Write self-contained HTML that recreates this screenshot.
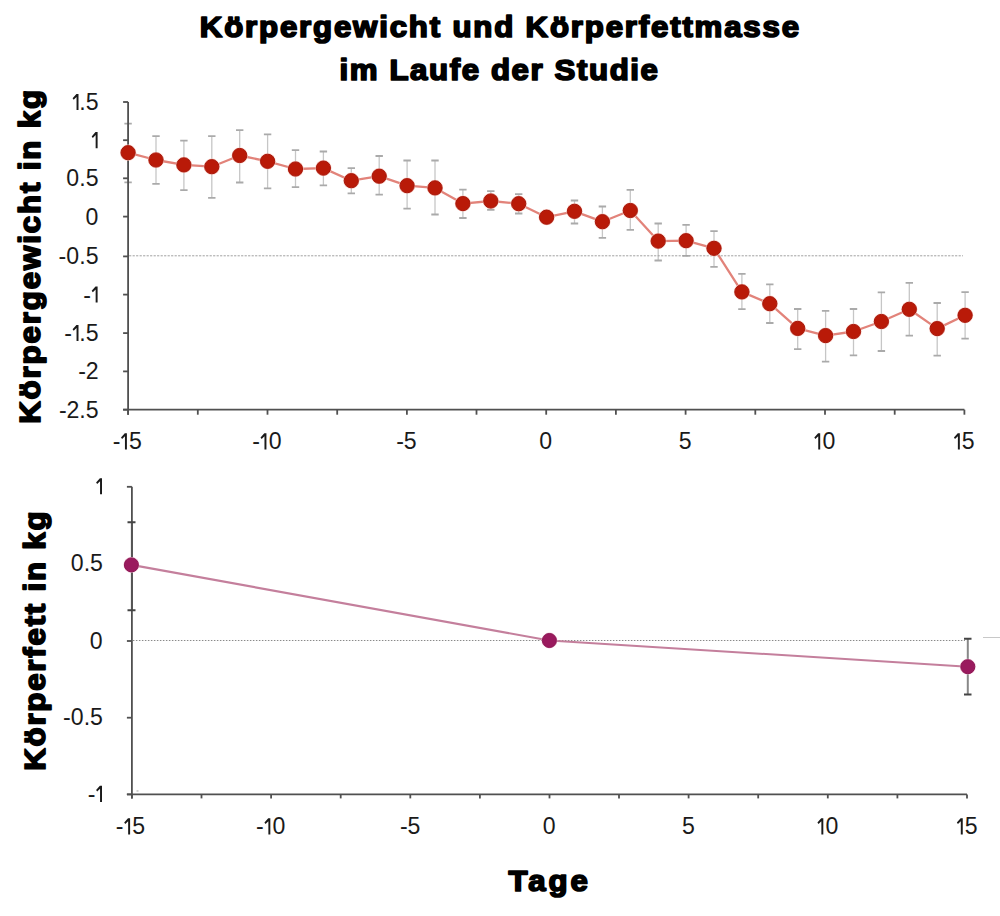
<!DOCTYPE html>
<html><head><meta charset="utf-8"><style>
html,body{margin:0;padding:0;background:#fff;width:1000px;height:916px;overflow:hidden}
svg{display:block}
.h{font-family:"Liberation Sans",sans-serif;font-weight:bold;font-size:29.2px;fill:#000;stroke:#000;stroke-width:1.7px;stroke-linejoin:round}
.t{font-family:"Liberation Sans",sans-serif;font-size:23.1px;fill:#1a1a1a}
.ax{stroke:#505050;stroke-width:1.8;fill:none}
.dot1{stroke:#a0a0a0;stroke-width:1;stroke-dasharray:2.2 1.3;fill:none}
.dot{stroke:#8a8a8a;stroke-width:1;stroke-dasharray:1.5 1.5;fill:none}
.eb{stroke:#c6c6c6;stroke-width:1.3;fill:none}
.ec{stroke:#aaaaaa;stroke-width:1.8;fill:none}
.ln{stroke:#e2837a;stroke-width:2.3;fill:none;stroke-linejoin:round}
.dt{fill:#b91a08;stroke:#a8170a;stroke-width:1}
.ln2{stroke:#c47f9c;stroke-width:2.1;fill:none}
.dt2{fill:#9a1a5e;stroke:#8c1654;stroke-width:1}
</style></head><body>
<svg width="1000" height="916" viewBox="0 0 1000 916">
<text transform="translate(199.8,37.2) scale(1.07,1)" x="0" y="0" textLength="560.09" lengthAdjust="spacing" class="h">Körpergewicht und Körperfettmasse</text>
<text transform="translate(339.5,79.5) scale(1.07,1)" x="0" y="0" textLength="297.66" lengthAdjust="spacing" class="h">im Laufe der Studie</text>
<text transform="translate(40,423.8) rotate(-90) scale(1.07,1)" x="0" y="0" textLength="312.15" lengthAdjust="spacing" class="h">Körpergewicht in kg</text>
<text transform="translate(45.4,770.8) rotate(-90) scale(1.07,1)" x="0" y="0" textLength="242.43" lengthAdjust="spacing" class="h">Körperfett in kg</text>
<text transform="translate(508.5,890.9) scale(1.07,1)" x="0" y="0" textLength="74.30" lengthAdjust="spacing" class="h">Tage</text>
<path d="M128.1 123.7V182.4" class="eb"/><path d="M124.4 123.7h7.4M124.4 182.4h7.4" class="ec"/>
<path d="M156.0 136.1V183.8" class="eb"/><path d="M152.3 136.1h7.4M152.3 183.8h7.4" class="ec"/>
<path d="M183.9 140.6V190.1" class="eb"/><path d="M180.2 140.6h7.4M180.2 190.1h7.4" class="ec"/>
<path d="M211.8 136.1V197.8" class="eb"/><path d="M208.1 136.1h7.4M208.1 197.8h7.4" class="ec"/>
<path d="M239.7 130.2V182.5" class="eb"/><path d="M236.0 130.2h7.4M236.0 182.5h7.4" class="ec"/>
<path d="M267.6 134.3V188.3" class="eb"/><path d="M263.9 134.3h7.4M263.9 188.3h7.4" class="ec"/>
<path d="M295.5 150.1V187.1" class="eb"/><path d="M291.8 150.1h7.4M291.8 187.1h7.4" class="ec"/>
<path d="M323.4 151.5V185.3" class="eb"/><path d="M319.7 151.5h7.4M319.7 185.3h7.4" class="ec"/>
<path d="M351.3 168.2V193.3" class="eb"/><path d="M347.6 168.2h7.4M347.6 193.3h7.4" class="ec"/>
<path d="M379.2 156.0V194.7" class="eb"/><path d="M375.5 156.0h7.4M375.5 194.7h7.4" class="ec"/>
<path d="M407.1 160.5V208.6" class="eb"/><path d="M403.4 160.5h7.4M403.4 208.6h7.4" class="ec"/>
<path d="M435.0 160.5V214.5" class="eb"/><path d="M431.3 160.5h7.4M431.3 214.5h7.4" class="ec"/>
<path d="M462.9 189.7V218.0" class="eb"/><path d="M459.2 189.7h7.4M459.2 218.0h7.4" class="ec"/>
<path d="M490.8 191.1V209.9" class="eb"/><path d="M487.1 191.1h7.4M487.1 209.9h7.4" class="ec"/>
<path d="M518.7 194.2V213.5" class="eb"/><path d="M515.0 194.2h7.4M515.0 213.5h7.4" class="ec"/>
<path d="M574.5 200.5V223.5" class="eb"/><path d="M570.8 200.5h7.4M570.8 223.5h7.4" class="ec"/>
<path d="M602.4 206.5V237.9" class="eb"/><path d="M598.7 206.5h7.4M598.7 237.9h7.4" class="ec"/>
<path d="M630.3 189.8V229.8" class="eb"/><path d="M626.6 189.8h7.4M626.6 229.8h7.4" class="ec"/>
<path d="M658.2 223.5V260.5" class="eb"/><path d="M654.5 223.5h7.4M654.5 260.5h7.4" class="ec"/>
<path d="M686.1 224.9V255.9" class="eb"/><path d="M682.4 224.9h7.4M682.4 255.9h7.4" class="ec"/>
<path d="M714.0 231.2V266.8" class="eb"/><path d="M710.3 231.2h7.4M710.3 266.8h7.4" class="ec"/>
<path d="M741.9 273.9V309.1" class="eb"/><path d="M738.2 273.9h7.4M738.2 309.1h7.4" class="ec"/>
<path d="M769.8 284.3V323.0" class="eb"/><path d="M766.1 284.3h7.4M766.1 323.0h7.4" class="ec"/>
<path d="M797.7 309.0V349.1" class="eb"/><path d="M794.0 309.0h7.4M794.0 349.1h7.4" class="ec"/>
<path d="M825.6 310.8V361.7" class="eb"/><path d="M821.9 310.8h7.4M821.9 361.7h7.4" class="ec"/>
<path d="M853.5 309.0V355.4" class="eb"/><path d="M849.8 309.0h7.4M849.8 355.4h7.4" class="ec"/>
<path d="M881.4 292.3V351.0" class="eb"/><path d="M877.7 292.3h7.4M877.7 351.0h7.4" class="ec"/>
<path d="M909.3 282.8V335.6" class="eb"/><path d="M905.6 282.8h7.4M905.6 335.6h7.4" class="ec"/>
<path d="M937.2 303.0V355.6" class="eb"/><path d="M933.5 303.0h7.4M933.5 355.6h7.4" class="ec"/>
<path d="M965.1 292.2V338.7" class="eb"/><path d="M961.4 292.2h7.4M961.4 338.7h7.4" class="ec"/>
<path d="M128.1 102V414.7M123.1 409.7H964.4" class="ax"/>
<path d="M123.1 102H128.1" class="ax"/>
<polygon points="78.50,110.00 78.50,93.90 76.40,93.90 72.60,98.20 73.70,99.70 76.55,96.90 76.55,110.00" fill="#1a1a1a"/><text x="82.50" y="110" text-anchor="middle" class="t">.</text><text x="92.05" y="110" text-anchor="middle" class="t">5</text>
<path d="M123.1 140.2H128.1" class="ax"/>
<polygon points="97.60,148.20 97.60,132.10 95.50,132.10 91.70,136.40 92.80,137.90 95.65,135.10 95.65,148.20" fill="#1a1a1a"/>
<path d="M123.1 178.3H128.1" class="ax"/>
<text x="72.70" y="186.3" text-anchor="middle" class="t">0</text><text x="82.50" y="186.3" text-anchor="middle" class="t">.</text><text x="92.05" y="186.3" text-anchor="middle" class="t">5</text>
<path d="M123.1 216.6H128.1" class="ax"/>
<text x="91.80" y="224.6" text-anchor="middle" class="t">0</text>
<path d="M123.1 256.4H128.1" class="ax"/>
<text x="62.40" y="264.4" text-anchor="middle" class="t">-</text><text x="72.70" y="264.4" text-anchor="middle" class="t">0</text><text x="82.50" y="264.4" text-anchor="middle" class="t">.</text><text x="92.05" y="264.4" text-anchor="middle" class="t">5</text>
<path d="M123.1 294.6H128.1" class="ax"/>
<text x="87.20" y="302.6" text-anchor="middle" class="t">-</text><polygon points="97.60,302.60 97.60,286.50 95.50,286.50 91.70,290.80 92.80,292.30 95.65,289.50 95.65,302.60" fill="#1a1a1a"/>
<path d="M123.1 333.1H128.1" class="ax"/>
<text x="68.10" y="341.1" text-anchor="middle" class="t">-</text><polygon points="78.50,341.10 78.50,325.00 76.40,325.00 72.60,329.30 73.70,330.80 76.55,328.00 76.55,341.10" fill="#1a1a1a"/><text x="82.50" y="341.1" text-anchor="middle" class="t">.</text><text x="92.05" y="341.1" text-anchor="middle" class="t">5</text>
<path d="M123.1 371.4H128.1" class="ax"/>
<text x="82.00" y="379.4" text-anchor="middle" class="t">-</text><text x="92.05" y="379.4" text-anchor="middle" class="t">2</text>
<path d="M123.1 409.7H128.1" class="ax"/>
<text x="62.90" y="417.7" text-anchor="middle" class="t">-</text><text x="72.95" y="417.7" text-anchor="middle" class="t">2</text><text x="82.50" y="417.7" text-anchor="middle" class="t">.</text><text x="92.05" y="417.7" text-anchor="middle" class="t">5</text>
<path d="M128.1 409.7V414.7" class="ax"/>
<path d="M197.8 409.7V414.7" class="ax"/>
<path d="M267.5 409.7V414.7" class="ax"/>
<path d="M337.2 409.7V414.7" class="ax"/>
<path d="M406.9 409.7V414.7" class="ax"/>
<path d="M476.5 409.7V414.7" class="ax"/>
<path d="M546.2 409.7V414.7" class="ax"/>
<path d="M615.9 409.7V414.7" class="ax"/>
<path d="M685.6 409.7V414.7" class="ax"/>
<path d="M755.3 409.7V414.7" class="ax"/>
<path d="M825.0 409.7V414.7" class="ax"/>
<path d="M894.7 409.7V414.7" class="ax"/>
<path d="M964.4 409.7V414.7" class="ax"/>
<text x="116.50" y="449.4" text-anchor="middle" class="t">-</text><polygon points="126.90,449.40 126.90,433.30 124.80,433.30 121.00,437.60 122.10,439.10 124.95,436.30 124.95,449.40" fill="#1a1a1a"/><text x="135.35" y="449.4" text-anchor="middle" class="t">5</text>
<text x="256.03" y="449.4" text-anchor="middle" class="t">-</text><polygon points="266.43,449.40 266.43,433.30 264.33,433.30 260.53,437.60 261.63,439.10 264.48,436.30 264.48,449.40" fill="#1a1a1a"/><text x="275.13" y="449.4" text-anchor="middle" class="t">0</text>
<text x="400.06" y="449.4" text-anchor="middle" class="t">-</text><text x="410.11" y="449.4" text-anchor="middle" class="t">5</text>
<text x="545.74" y="449.4" text-anchor="middle" class="t">0</text>
<text x="685.12" y="449.4" text-anchor="middle" class="t">5</text>
<polygon points="820.20,449.40 820.20,433.30 818.10,433.30 814.30,437.60 815.40,439.10 818.25,436.30 818.25,449.40" fill="#1a1a1a"/><text x="828.90" y="449.4" text-anchor="middle" class="t">0</text>
<polygon points="959.83,449.40 959.83,433.30 957.73,433.30 953.93,437.60 955.03,439.10 957.88,436.30 957.88,449.40" fill="#1a1a1a"/><text x="968.28" y="449.4" text-anchor="middle" class="t">5</text>
<path d="M129.1 255.8H963" class="dot1"/>
<polyline points="128.1,152.7 156.0,160.0 183.9,164.9 211.8,166.7 239.7,155.5 267.6,161.3 295.5,169.0 323.4,168.1 351.3,180.7 379.2,176.2 407.1,185.7 435.0,187.9 462.9,203.6 490.8,201.0 518.7,203.7 546.6,217.2 574.5,211.3 602.4,221.7 630.3,210.5 658.2,241.1 686.1,240.7 714.0,248.3 741.9,291.9 769.8,303.7 797.7,328.4 825.6,335.6 853.5,331.5 881.4,321.5 909.3,309.3 937.2,328.6 965.1,315.3" class="ln"/>
<circle cx="128.1" cy="152.7" r="8.1" fill="#f6c8c0"/><circle cx="128.1" cy="152.7" r="7.1" class="dt"/>
<circle cx="156.0" cy="160.0" r="8.1" fill="#f6c8c0"/><circle cx="156.0" cy="160.0" r="7.1" class="dt"/>
<circle cx="183.9" cy="164.9" r="8.1" fill="#f6c8c0"/><circle cx="183.9" cy="164.9" r="7.1" class="dt"/>
<circle cx="211.8" cy="166.7" r="8.1" fill="#f6c8c0"/><circle cx="211.8" cy="166.7" r="7.1" class="dt"/>
<circle cx="239.7" cy="155.5" r="8.1" fill="#f6c8c0"/><circle cx="239.7" cy="155.5" r="7.1" class="dt"/>
<circle cx="267.6" cy="161.3" r="8.1" fill="#f6c8c0"/><circle cx="267.6" cy="161.3" r="7.1" class="dt"/>
<circle cx="295.5" cy="169.0" r="8.1" fill="#f6c8c0"/><circle cx="295.5" cy="169.0" r="7.1" class="dt"/>
<circle cx="323.4" cy="168.1" r="8.1" fill="#f6c8c0"/><circle cx="323.4" cy="168.1" r="7.1" class="dt"/>
<circle cx="351.3" cy="180.7" r="8.1" fill="#f6c8c0"/><circle cx="351.3" cy="180.7" r="7.1" class="dt"/>
<circle cx="379.2" cy="176.2" r="8.1" fill="#f6c8c0"/><circle cx="379.2" cy="176.2" r="7.1" class="dt"/>
<circle cx="407.1" cy="185.7" r="8.1" fill="#f6c8c0"/><circle cx="407.1" cy="185.7" r="7.1" class="dt"/>
<circle cx="435.0" cy="187.9" r="8.1" fill="#f6c8c0"/><circle cx="435.0" cy="187.9" r="7.1" class="dt"/>
<circle cx="462.9" cy="203.6" r="8.1" fill="#f6c8c0"/><circle cx="462.9" cy="203.6" r="7.1" class="dt"/>
<circle cx="490.8" cy="201.0" r="8.1" fill="#f6c8c0"/><circle cx="490.8" cy="201.0" r="7.1" class="dt"/>
<circle cx="518.7" cy="203.7" r="8.1" fill="#f6c8c0"/><circle cx="518.7" cy="203.7" r="7.1" class="dt"/>
<circle cx="546.6" cy="217.2" r="8.1" fill="#f6c8c0"/><circle cx="546.6" cy="217.2" r="7.1" class="dt"/>
<circle cx="574.5" cy="211.3" r="8.1" fill="#f6c8c0"/><circle cx="574.5" cy="211.3" r="7.1" class="dt"/>
<circle cx="602.4" cy="221.7" r="8.1" fill="#f6c8c0"/><circle cx="602.4" cy="221.7" r="7.1" class="dt"/>
<circle cx="630.3" cy="210.5" r="8.1" fill="#f6c8c0"/><circle cx="630.3" cy="210.5" r="7.1" class="dt"/>
<circle cx="658.2" cy="241.1" r="8.1" fill="#f6c8c0"/><circle cx="658.2" cy="241.1" r="7.1" class="dt"/>
<circle cx="686.1" cy="240.7" r="8.1" fill="#f6c8c0"/><circle cx="686.1" cy="240.7" r="7.1" class="dt"/>
<circle cx="714.0" cy="248.3" r="8.1" fill="#f6c8c0"/><circle cx="714.0" cy="248.3" r="7.1" class="dt"/>
<circle cx="741.9" cy="291.9" r="8.1" fill="#f6c8c0"/><circle cx="741.9" cy="291.9" r="7.1" class="dt"/>
<circle cx="769.8" cy="303.7" r="8.1" fill="#f6c8c0"/><circle cx="769.8" cy="303.7" r="7.1" class="dt"/>
<circle cx="797.7" cy="328.4" r="8.1" fill="#f6c8c0"/><circle cx="797.7" cy="328.4" r="7.1" class="dt"/>
<circle cx="825.6" cy="335.6" r="8.1" fill="#f6c8c0"/><circle cx="825.6" cy="335.6" r="7.1" class="dt"/>
<circle cx="853.5" cy="331.5" r="8.1" fill="#f6c8c0"/><circle cx="853.5" cy="331.5" r="7.1" class="dt"/>
<circle cx="881.4" cy="321.5" r="8.1" fill="#f6c8c0"/><circle cx="881.4" cy="321.5" r="7.1" class="dt"/>
<circle cx="909.3" cy="309.3" r="8.1" fill="#f6c8c0"/><circle cx="909.3" cy="309.3" r="7.1" class="dt"/>
<circle cx="937.2" cy="328.6" r="8.1" fill="#f6c8c0"/><circle cx="937.2" cy="328.6" r="7.1" class="dt"/>
<circle cx="965.1" cy="315.3" r="8.1" fill="#f6c8c0"/><circle cx="965.1" cy="315.3" r="7.1" class="dt"/>
<path d="M131.9 486.8V798.4M126.9 794.4H967" class="ax"/>
<path d="M126.9 486.8H131.9" class="ax"/>
<path d="M126.9 641.0H131.9" class="ax"/>
<path d="M126.9 717.7H131.9" class="ax"/>
<path d="M126.9 794.4H131.9" class="ax"/>
<polygon points="102.00,494.30 102.00,478.20 99.90,478.20 96.10,482.50 97.20,484.00 100.05,481.20 100.05,494.30" fill="#1a1a1a"/>
<text x="77.10" y="571.0" text-anchor="middle" class="t">0</text><text x="86.90" y="571.0" text-anchor="middle" class="t">.</text><text x="96.45" y="571.0" text-anchor="middle" class="t">5</text>
<text x="96.20" y="648.5" text-anchor="middle" class="t">0</text>
<text x="66.80" y="725.2" text-anchor="middle" class="t">-</text><text x="77.10" y="725.2" text-anchor="middle" class="t">0</text><text x="86.90" y="725.2" text-anchor="middle" class="t">.</text><text x="96.45" y="725.2" text-anchor="middle" class="t">5</text>
<text x="91.60" y="801.9" text-anchor="middle" class="t">-</text><polygon points="102.00,801.90 102.00,785.80 99.90,785.80 96.10,790.10 97.20,791.60 100.05,788.80 100.05,801.90" fill="#1a1a1a"/>
<path d="M131.9 794.4V798.4" class="ax"/>
<path d="M201.5 794.4V798.4" class="ax"/>
<path d="M271.1 794.4V798.4" class="ax"/>
<path d="M340.7 794.4V798.4" class="ax"/>
<path d="M410.3 794.4V798.4" class="ax"/>
<path d="M479.9 794.4V798.4" class="ax"/>
<path d="M549.5 794.4V798.4" class="ax"/>
<path d="M619.0 794.4V798.4" class="ax"/>
<path d="M688.6 794.4V798.4" class="ax"/>
<path d="M758.2 794.4V798.4" class="ax"/>
<path d="M827.8 794.4V798.4" class="ax"/>
<path d="M897.4 794.4V798.4" class="ax"/>
<path d="M967.0 794.4V798.4" class="ax"/>
<text x="119.70" y="834.4" text-anchor="middle" class="t">-</text><polygon points="130.10,834.40 130.10,818.30 128.00,818.30 124.20,822.60 125.30,824.10 128.15,821.30 128.15,834.40" fill="#1a1a1a"/><text x="138.55" y="834.4" text-anchor="middle" class="t">5</text>
<text x="259.93" y="834.4" text-anchor="middle" class="t">-</text><polygon points="270.33,834.40 270.33,818.30 268.23,818.30 264.43,822.60 265.53,824.10 268.38,821.30 268.38,834.40" fill="#1a1a1a"/><text x="279.03" y="834.4" text-anchor="middle" class="t">0</text>
<text x="403.77" y="834.4" text-anchor="middle" class="t">-</text><text x="413.82" y="834.4" text-anchor="middle" class="t">5</text>
<text x="549.25" y="834.4" text-anchor="middle" class="t">0</text>
<text x="688.43" y="834.4" text-anchor="middle" class="t">5</text>
<polygon points="823.32,834.40 823.32,818.30 821.22,818.30 817.42,822.60 818.52,824.10 821.37,821.30 821.37,834.40" fill="#1a1a1a"/><text x="832.02" y="834.4" text-anchor="middle" class="t">0</text>
<polygon points="962.75,834.40 962.75,818.30 960.65,818.30 956.85,822.60 957.95,824.10 960.80,821.30 960.80,834.40" fill="#1a1a1a"/><text x="971.20" y="834.4" text-anchor="middle" class="t">5</text>
<path d="M132.9 640.5H965" class="dot"/>
<path d="M983 637.5H1000" stroke="#c8c8c8" stroke-width="1"/><rect x="136.5" y="790.3" width="2" height="1.3" fill="#bbb"/>
<path d="M131.9 522.3V610.2" stroke="#555" stroke-width="2"/><path d="M127.5 522.3h8M127.5 610.2h8" stroke="#444" stroke-width="2"/>
<path d="M967.8 638.8V694.6" stroke="#888" stroke-width="2"/><path d="M964 638.8h7.5M964 694.6h7.5" stroke="#444" stroke-width="2"/>
<polyline points="131.4,564.9 549.4,640.5 967.8,666.7" class="ln2"/>
<circle cx="131.4" cy="564.9" r="7.9" fill="#eec0d4"/><circle cx="131.4" cy="564.9" r="7.0" class="dt2"/>
<circle cx="549.4" cy="640.5" r="7.9" fill="#eec0d4"/><circle cx="549.4" cy="640.5" r="7.0" class="dt2"/>
<circle cx="967.8" cy="666.7" r="7.9" fill="#eec0d4"/><circle cx="967.8" cy="666.7" r="7.0" class="dt2"/>
</svg>
</body></html>
